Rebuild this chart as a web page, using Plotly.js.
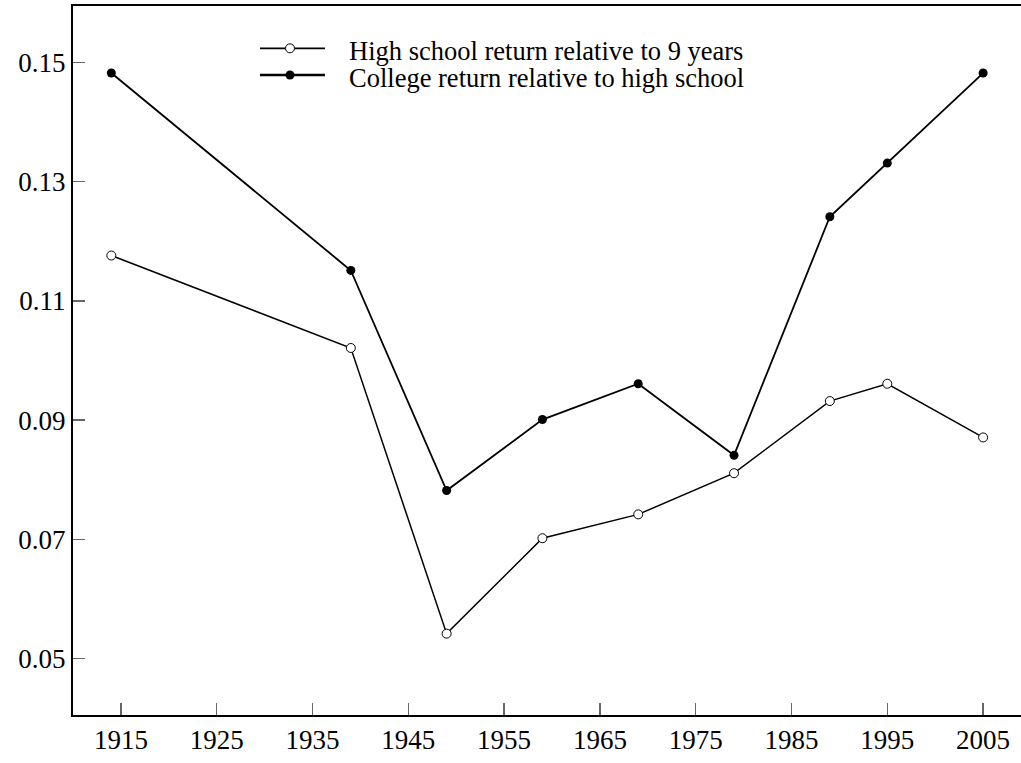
<!DOCTYPE html>
<html>
<head>
<meta charset="utf-8">
<script src="https://cdn.plot.ly/plotly-3.0.1.min.js"></script>
<style>
html,body{margin:0;padding:0;overflow:hidden;background:#fff;}
#chart{width:1040px;height:763px;}
</style>
</head>
<body>
<div id="chart"></div>
<script>
var years = [1914, 1939, 1949, 1959, 1969, 1979, 1989, 1995, 2005];
var highSchool = [0.1176, 0.1021, 0.0542, 0.0702, 0.0742, 0.0811, 0.0932, 0.0961, 0.0871];
var college = [0.1482, 0.1151, 0.0782, 0.0901, 0.0961, 0.0841, 0.1241, 0.1331, 0.1482];
var seriesNames = ['High school return relative to 9 years', 'College return relative to high school'];
var xTicks = [1915, 1925, 1935, 1945, 1955, 1965, 1975, 1985, 1995, 2005];
var yTicks = [0.05, 0.07, 0.09, 0.11, 0.13, 0.15];
var yTickText = ["0.05", "0.07", "0.09", "0.11", "0.13", "0.15"];

var FONT = 'Liberation Serif, Times New Roman, serif';

var traces = [
  {
    x: years, y: highSchool, type: 'scatter', mode: 'lines+markers',
    name: seriesNames[0], showlegend: false,
    line: {color: '#000', width: 1.5},
    marker: {symbol: 'circle', size: 9, color: '#fff', line: {color: '#000', width: 1}}
  },
  {
    x: years, y: college, type: 'scatter', mode: 'lines+markers',
    name: seriesNames[1], showlegend: false,
    line: {color: '#000', width: 1.8},
    marker: {symbol: 'circle', size: 9, color: '#000', line: {color: '#000', width: 0}}
  }
];

// Manual legend (paper coordinates; plot area 958 x 709 px)
var PW = 958, PH = 709;
var legRows = [0.9403, 0.9027];
var legX0 = 0.1952, legX1 = 0.2630, legMk = 0.2265, legTx = 0.286;
var rx = 4.5 / PW, ry = 4.5 / PH;
var shapes = [
  {type: 'line', xref: 'paper', yref: 'paper', x0: legX0, x1: legX1, y0: legRows[0], y1: legRows[0], line: {color: '#000', width: 1.6}},
  {type: 'circle', xref: 'paper', yref: 'paper', x0: legMk - rx, x1: legMk + rx, y0: legRows[0] - ry, y1: legRows[0] + ry, fillcolor: '#fff', line: {color: '#000', width: 1}},
  {type: 'line', xref: 'paper', yref: 'paper', x0: legX0, x1: legX1, y0: legRows[1], y1: legRows[1], line: {color: '#000', width: 2.6}},
  {type: 'circle', xref: 'paper', yref: 'paper', x0: legMk - rx, x1: legMk + rx, y0: legRows[1] - ry, y1: legRows[1] + ry, fillcolor: '#000', line: {color: '#000', width: 0}}
];
var annotations = seriesNames.map(function (n, i) {
  return {
    xref: 'paper', yref: 'paper', x: legTx, y: legRows[i] - 0.004,
    xanchor: 'left', yanchor: 'middle', showarrow: false, text: n,
    font: {family: FONT, size: 26.5, color: '#000'}
  };
});

var layout = {
  width: 1040, height: 763,
  margin: {l: 73, r: 9, t: 6, b: 48},
  paper_bgcolor: '#fff', plot_bgcolor: '#fff',
  font: {family: FONT, color: '#000', size: 27},
  showlegend: false,
  shapes: shapes,
  annotations: annotations,
  xaxis: {
    range: [1910, 2010], showgrid: false, zeroline: false,
    showline: true, linecolor: '#000', linewidth: 2, mirror: true,
    ticks: 'inside', ticklen: 12, tickwidth: 1.5, tickcolor: '#666',
    tickvals: xTicks, ticktext: xTicks.map(String),
    tickfont: {family: FONT, size: 27, color: '#000'}
  },
  yaxis: {
    range: [0.04056, 0.15944], showgrid: false, zeroline: false,
    showline: true, linecolor: '#000', linewidth: 2, mirror: true,
    ticks: 'inside', ticklen: 12, tickwidth: 1.5, tickcolor: '#666',
    tickvals: yTicks, ticktext: yTickText,
    tickfont: {family: FONT, size: 27, color: '#000'}
  }
};

Plotly.newPlot('chart', traces, layout, {displayModeBar: false, staticPlot: true});
</script>
</body>
</html>
